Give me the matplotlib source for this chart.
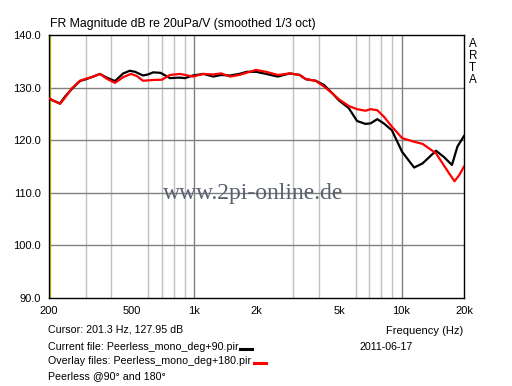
import matplotlib
matplotlib.use("Agg")
import matplotlib.pyplot as plt
from matplotlib.lines import Line2D

plt.rcParams['font.family'] = ['Liberation Sans', 'DejaVu Sans']

freq_90 = [200, 210, 226, 239, 257, 282, 302, 327, 352, 379, 416, 456, 490, 520, 568, 600, 636, 690,
           766, 850, 904, 989, 1108, 1240, 1350, 1493, 1650, 1795, 1992, 2226, 2532, 2894, 3225, 3459,
           3856, 4228, 4644, 4982, 5567, 6105, 6700, 7090, 7640, 8210, 8980, 10060, 11500, 12640,
           14660, 16000, 17500, 18600, 20000]
db_90 = [127.95, 127.5, 127.0, 128.3, 129.7, 131.25, 131.6, 132.1, 132.6, 131.9, 131.25, 132.7, 133.2,
         133.0, 132.3, 132.5, 132.9, 132.8, 131.8, 131.9, 131.8, 132.3, 132.6, 132.1, 132.4, 132.3,
         132.6, 133.0, 133.0, 132.6, 132.1, 132.7, 132.4, 131.6, 131.3, 130.5, 128.9, 127.6, 126.1,
         123.65, 123.1, 123.2, 124.0, 123.2, 121.9, 117.8, 114.8, 115.6, 118.0, 116.8, 115.3, 118.8, 120.8]

freq_180 = [200, 226, 239, 257, 282, 302, 327, 352, 379, 416, 456, 497, 530, 568, 636, 700, 766, 856,
            989, 1108, 1240, 1350, 1493, 1650, 1930, 1992, 2226, 2532, 2894, 3225, 3459, 3856, 4228,
            4644, 4982, 5567, 6105, 6700, 7090, 7640, 8210, 8980, 10060, 11500, 12640, 14660, 16950,
            18000, 19000, 20000]
db_180 = [127.95, 126.9, 128.1, 129.8, 131.3, 131.7, 132.1, 132.6, 131.7, 130.9, 132.0, 132.6, 132.2,
          131.3, 131.45, 131.5, 132.4, 132.6, 132.1, 132.6, 132.5, 132.7, 132.1, 132.4, 133.2, 133.35,
          133.0, 132.4, 132.7, 132.4, 131.6, 131.3, 130.2, 128.9, 127.8, 126.5, 125.9, 125.6, 125.9,
          125.7, 124.5, 122.6, 120.4, 119.7, 119.3, 117.5, 113.7, 112.2, 113.4, 115.0]

x_ticks = [200, 500, 1000, 2000, 5000, 10000, 20000]
x_labels = ['200', '500', '1k', '2k', '5k', '10k', '20k']
y_ticks = [90, 100, 110, 120, 130, 140]
y_labels = ['90.0', '100.0', '110.0', '120.0', '130.0', '140.0']
minor_ticks = [300, 400, 600, 700, 800, 900, 3000, 4000, 6000, 7000, 8000, 9000]

W, H = 512, 386
fig = plt.figure(figsize=(W / 100, H / 100), dpi=100)
L, R, T, B = 49, 464, 35, 298
ax = fig.add_axes([L / W, 1 - B / H, (R - L) / W, (B - T) / H])
ax.set_xscale('log')
ax.set_xlim(200, 20000)
ax.set_ylim(90, 140)

for f in minor_ticks:
    ax.axvline(f, color='#c0c0c0', lw=1, zorder=1)
for f in [1000, 10000]:
    ax.axvline(f, color='#808080', lw=1, zorder=1)
for v in [100, 110, 120, 130]:
    ax.axhline(v, color='#808080', lw=1, zorder=1)
ax.axvline(201.3, color='#c8c800', lw=1, zorder=2)

ax.plot(freq_90, db_90, color='black', lw=1.6, zorder=3)
ax.plot(freq_180, db_180, color='#ff0000', lw=1.6, zorder=4)

fs = 7.7
ax.set_xticks(x_ticks)
ax.set_xticklabels(x_labels)
ax.set_xticks([], minor=True)
ax.set_yticks(y_ticks)
ax.set_yticklabels(y_labels)
ax.tick_params(length=0, labelsize=8.0, pad=6)
for s in ax.spines.values():
    s.set_color('black')
    s.set_linewidth(1)

def px(x, y):
    return x / W, 1 - y / H

fig.text(*px(50, 24), 'FR Magnitude dB re 20uPa/V (smoothed 1/3 oct)', fontsize=8.8, va='center', ha='left')
for ch, yy in zip('ARTA', [44, 56, 68, 80]):
    fig.text(*px(469, yy), ch, fontsize=8.4, va='center', ha='left')

fig.text(*px(253, 194), 'www.2pi-online.de', fontsize=17, family=['Liberation Serif', 'DejaVu Serif'],
         color='#5a6070', va='center', ha='center', zorder=5)

fig.text(*px(48, 330), 'Cursor: 201.3 Hz, 127.95 dB', fontsize=fs, va='center', ha='left')
fig.text(*px(463, 331), 'Frequency (Hz)', fontsize=8.0, va='center', ha='right')
fig.text(*px(48, 347), 'Current file: Peerless_mono_deg+90.pir', fontsize=fs, va='center', ha='left')
fig.text(*px(360, 347), '2011-06-17', fontsize=fs, va='center', ha='left')
fig.text(*px(48, 361), 'Overlay files: Peerless_mono_deg+180.pir', fontsize=fs, va='center', ha='left')
fig.text(*px(48, 376), 'Peerless @90\u00b0 and 180\u00b0', fontsize=fs, va='center', ha='left')

fig.add_artist(Line2D([240 / W, 252 / W], [1 - 349 / H, 1 - 349 / H], color='black', lw=2.2))
fig.add_artist(Line2D([254 / W, 266 / W], [1 - 363 / H, 1 - 363 / H], color='#ff0000', lw=2.2))

fig.savefig('out.png', dpi=100, facecolor='white')
